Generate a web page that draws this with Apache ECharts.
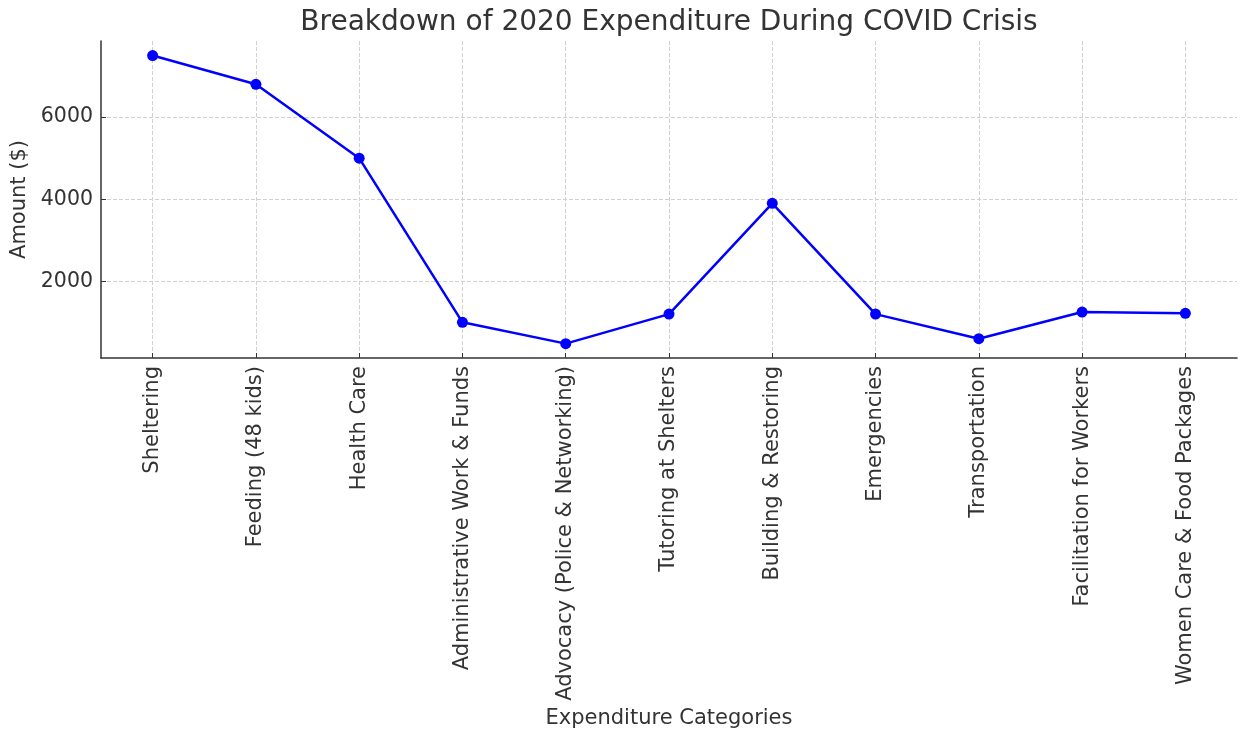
<!DOCTYPE html>
<html><head><meta charset="utf-8">
<script src="https://cdn.jsdelivr.net/npm/echarts@6/dist/echarts.min.js"></script>
<style>html,body{margin:0;padding:0;background:#fff}#c{width:1238px;height:730px}</style>
</head><body><div id="c"></div>
<script>
const categories = ["Sheltering","Feeding (48 kids)","Health Care","Administrative Work & Funds","Advocacy (Police & Networking)","Tutoring at Shelters","Building & Restoring","Emergencies","Transportation","Facilitation for Workers","Women Care & Food Packages"];
const amounts = [7500, 6800, 5000, 1000, 480, 1200, 3900, 1200, 600, 1250, 1220];
const yTicks = [2000, 4000, 6000];

const FONT = "DejaVu Sans";
const chart = echarts.init(document.getElementById('c'), null, {renderer:'canvas'});
chart.setOption({
  animation:false,
  backgroundColor:'#fff',
  title:{text:'Breakdown of 2020 Expenditure During COVID Crisis', left:664, top:4, textAlign:'center',
    textStyle:{fontFamily:FONT, fontSize:28, fontWeight:'normal', color:'#333'}},
  grid:{left:101, right:1, top:41, bottom:372},
  xAxis:{type:'category', data:categories, boundaryGap:true,
    name:'Expenditure Categories', nameLocation:'middle', nameGap:350,
    nameTextStyle:{fontFamily:FONT, fontSize:21, color:'#333'},
    axisLine:{lineStyle:{color:'#333', width:1.5}},
    axisTick:{show:true, alignWithLabel:true, inside:true, length:5, lineStyle:{color:'#333'}},
    axisLabel:{rotate:90, interval:0, margin:8, fontFamily:FONT, fontSize:21, color:'#333'},
    splitLine:{show:true, alignWithLabel:true, interval:0, lineStyle:{type:'dashed', color:'#d0d0d0'}}
  },
  yAxis:{type:'value', min:130, max:7855,
    name:'Amount ($)', nameLocation:'middle', nameGap:68,
    nameTextStyle:{fontFamily:FONT, fontSize:21, color:'#333'},
    axisLine:{show:true, lineStyle:{color:'#333', width:1.5}},
    axisTick:{show:true, inside:true, length:5, customValues:yTicks, lineStyle:{color:'#333'}},
    axisLabel:{customValues:yTicks, margin:8, fontFamily:FONT, fontSize:20.5, color:'#333', formatter:v=>String(v)},
    splitLine:{show:true, customValues:yTicks, lineStyle:{type:'dashed', color:'#d0d0d0'}}
  },
  series:[{type:'line', data:amounts, symbol:'circle', symbolSize:11,
    lineStyle:{color:'#0000ff', width:2.5}, itemStyle:{color:'#0000ff'}}]
});
</script></body></html>
